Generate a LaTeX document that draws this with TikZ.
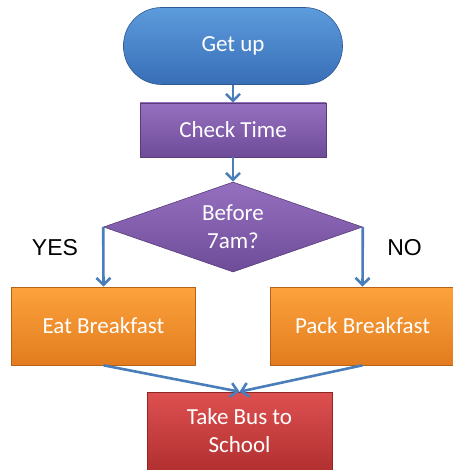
\documentclass[tikz,border=0pt]{standalone}
\usepackage{fontspec}
\setmainfont{Carlito}
\newfontfamily\labelfont{Liberation Sans}
\usetikzlibrary{shapes.geometric,arrows.meta}
\definecolor{arrowblue}{RGB}{74,126,187}
\definecolor{blueT}{RGB}{92,155,220}
\definecolor{blueB}{RGB}{56,110,182}
\definecolor{purpT}{RGB}{150,112,192}
\definecolor{purpB}{RGB}{110,76,152}
\definecolor{orT}{RGB}{252,162,60}
\definecolor{orB}{RGB}{226,124,30}
\definecolor{redT}{RGB}{222,80,80}
\definecolor{redB}{RGB}{178,48,48}
\tikzset{
  box/.style={draw=#1B!80!black, line width=0.6pt, top color=#1T, bottom color=#1B,
    text=white, font=\fontsize{23}{28}\selectfont, align=center, inner sep=0pt},
  conn/.style={draw=arrowblue, line width=2.6pt, -{Straight Barb[length=7pt,width=14pt,line width=2.6pt]}},
  yn/.style={font=\labelfont\fontsize{23}{27}\selectfont, text=black}
}
\begin{document}
\begin{tikzpicture}[x=1pt,y=-1pt]
\useasboundingbox (0,0) rectangle (452,470);
\node[box=blue, minimum width=219pt, minimum height=77pt, rounded corners=38pt] (getup) at (233,46) {Get up};
\node[box=purp, minimum width=186pt, minimum height=54pt] (check) at (233,130) {Check Time};
\node[box=purp, diamond, shape aspect=2.88, minimum width=259pt, minimum height=90pt] (dec) at (233,227) {Before\\7am?};
\node[box=or, minimum width=184pt, minimum height=78pt] (eat) at (103.5,326) {Eat Breakfast};
\node[box=or, minimum width=184pt, minimum height=78pt] (pack) at (362.5,326) {Pack Breakfast};
\node[box=red, minimum width=185pt, minimum height=78pt] (bus) at (239.5,431) {Take Bus to\\School};
\node[yn] (yes) at (55,248) {YES};
\node[yn] (no) at (404.5,248) {NO};
\draw[conn] (getup.south) -- (check.north);
\draw[conn] (check.south) -- (dec.north);
\draw[conn] (dec.west) -- (eat.north);
\draw[conn] (dec.east) -- (pack.north);
\draw[conn] (eat.south) -- (bus.north);
\draw[conn] (pack.south) -- (bus.north);
\end{tikzpicture}
\end{document}
